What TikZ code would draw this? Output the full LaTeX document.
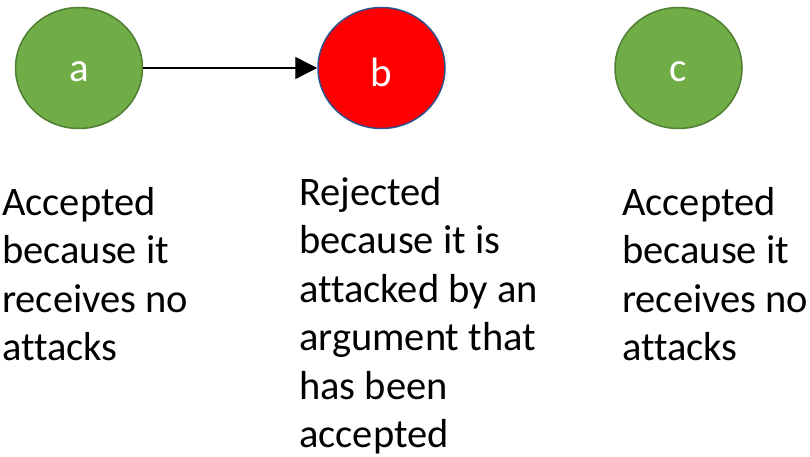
\documentclass[tikz,border=0pt]{standalone}
\usepackage{fontspec}
\setmainfont{Carlito}[Ligatures={NoCommon}]
\usetikzlibrary{shapes.geometric,arrows.meta}
\definecolor{offgreen}{HTML}{70AD47}
\definecolor{offgreenline}{HTML}{507E32}
\definecolor{offblueline}{HTML}{2F528F}
\newcommand{\arglabel}[1]{\raisebox{-4pt}[\height][\depth]{#1}}
\tikzset{
  arg/.style={ellipse, minimum width=127pt, minimum height=121pt, inner sep=0pt,
    line width=1.5pt, text=white, font=\fontsize{41}{48}\selectfont},
  okarg/.style={arg, fill=offgreen, draw=offgreenline},
  badarg/.style={arg, fill=red, draw=offblueline},
  caption/.style={anchor=base west, inner sep=0pt, font=\fontsize{40.5}{48.5}\selectfont},
  attack/.style={line width=1.3pt, -{Triangle[length=22pt,width=22pt]}}
}
\begin{document}
\begin{tikzpicture}[x=1pt,y=1pt]
\useasboundingbox (0,0) rectangle (810,-457);
\node[okarg] (a) at (79,-68) {\arglabel{a}};
\node[badarg] (b) at (381.5,-68) {\arglabel{b}};
\node[okarg] (c) at (678.5,-68) {\arglabel{c}};
\draw[attack] (a) -- (b);
\node[caption] (ta) at (2,-215) {\parbox[t]{300pt}{\raggedright Accepted\\because it\\receives no\\attacks}};
\node[caption] (tb) at (299,-205) {\parbox[t]{300pt}{\raggedright Rejected\\because it is\\attacked by an\\argument that\\has been\\accepted}};
\node[caption] (tc) at (622,-215) {\parbox[t]{300pt}{\raggedright Accepted\\because it\\receives no\\attacks}};
\end{tikzpicture}
\end{document}
